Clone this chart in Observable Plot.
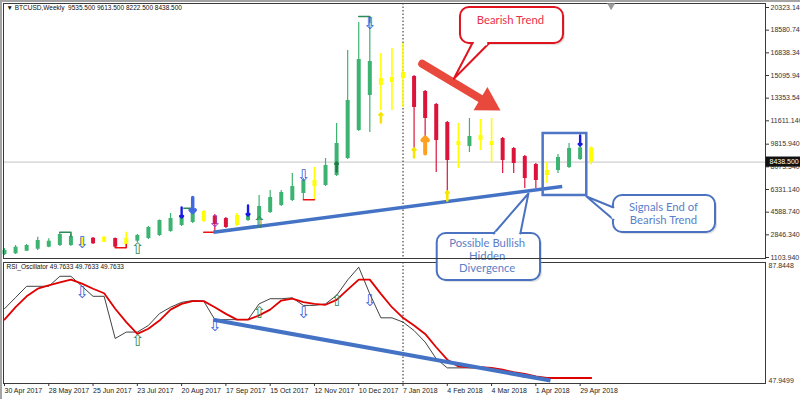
<!DOCTYPE html>
<html><head><meta charset="utf-8">
<script src="https://cdn.jsdelivr.net/npm/d3@7"></script>
<script src="https://cdn.jsdelivr.net/npm/@observablehq/plot@0.6"></script>
<style>
html,body{margin:0;padding:0;background:#fff;}
#wrap{position:relative;width:800px;height:399px;overflow:hidden;background:#fff;}
#wrap svg{position:absolute;left:0;top:0;}
#wrap .bt{position:absolute;left:0;top:0;width:800px;height:2px;background:#a4a4a4;}
#wrap .bl{position:absolute;left:0;top:0;width:2px;height:399px;background:#a4a4a4;}
</style></head><body><div id="wrap"><div class="bt"></div><div class="bl"></div></div>
<script>
// ---------- data ----------
const title = "▼ BTCUSD,Weekly  9535.500 9613.500 8222.500 8438.500";
const rsiTitle = "RSI_Oscillator 49.7633 49.7633 49.7633";
const dateLabels = ["30 Apr 2017","28 May 2017","25 Jun 2017","23 Jul 2017","20 Aug 2017","17 Sep 2017","15 Oct 2017","12 Nov 2017","10 Dec 2017","7 Jan 2018","4 Feb 2018","4 Mar 2018","1 Apr 2018","29 Apr 2018"];
const dateLabelBar = [0,4,8,12,16,20,24,28,32,36,40,44,48,52];
const priceTicks = [1103.94,2846.34,4588.74,6331.14,8073.54,9815.94,11611.14,13353.54,15095.94,16838.34,18580.74,20323.14];
const rsiMax = 87.8448, rsiMin = 47.9499;
const lastPrice = 8438.5;
// trend state per weekly bar: g = bullish, y = neutral, r = bearish
const trend = ["g","g","g","g","g","g","g","y","r","y","r","y","g","g","g","g","g","g","y","r","r","y","g","g","g","g","g","g","y","g","g","g","g","g","y","y","y","r","r","r","r","y","g","y","y","r","r","r","r","y","g","g","g","y"];
const open  = [1335,1388,1588,1742,1896,2027,2027,2565,2588,2280,2565,2103,2357,2565,2795,3103,3564,3795,4640,4256,4102,3564,3949,3949,4564,5102,5486,6024,6562,6639,7408,8715,10868,16172,14327,14558,15327,15019,13866,12867,11483,9715,9638,10099,9715,10253,9484,8869,8254,7408,7793,8023,8638,9535.5];
const high  = [1796,2027,2103,2665,2542,3026,2872,2642,2650,2700,2600,3049,2872,3487,3987,4487,4487,4871,4717,4410,4179,4487,4410,5871,6255,6255,7562,7178,8023,8715,11406,17018,19171,19555,16788,17172,17556,15096,13943,12944,11560,11406,11790,11713,11790,10330,9561,8946,8331,8407,9023,9868,10253,9613.5];
const low   = [1258,1335,1565,1642,1850,1950,1950,1873,2100,2250,1850,1850,2257,2488,2718,3049,3487,3718,3795,3049,3333,3487,3872,3564,4487,5025,5409,5540,5540,6562,7331,8638,10791,10714,12405,12405,12636,9100,9561,7639,6024,7946,9176,9330,8407,7562,7562,6409,6409,6793,7562,7946,8561,8222.5];
const close = [1642,1896,2027,2411,2357,2872,2718,2027,2157,2665,1896,2565,2795,3410,3949,4102,4333,4587,3872,3641,3410,4333,4333,5025,5717,6101,6562,7024,7024,8177,9868,13174,16326,13559,14866,14942,14866,12636,11790,10099,8561,10022,10406,10483,10022,8561,8331,7178,7024,7793,8792,9484,9535.5,8438.5];
const rsi    = [72.6,76.3,80.0,80.0,80.0,83.3,83.3,80.0,76.7,76.7,62.8,64.9,64.9,67.1,71.0,73.1,74.7,75.3,75.1,69.0,69.0,69.0,69.0,74.2,75.9,75.9,76.2,73.7,73.7,74.2,77.0,82.1,86.3,77.5,69.6,69.6,68.2,65.4,61.6,56.1,53.1,53.1,53.1,53.1,52.8,51.7,50.9,50.0,49.8,49.76,49.76,49.76,49.76,49.76];
const rsiSig = [69.0,73.1,76.7,79.2,80.3,81.3,82.2,80.9,79.2,77.7,72.6,68.2,64.3,66.0,68.7,72.3,74.2,75.1,75.1,73.1,70.9,69.0,69.0,70.4,72.3,75.3,75.9,74.8,74.2,73.9,75.5,78.9,82.2,82.2,77.5,73.1,69.6,67.1,64.3,59.9,55.8,53.6,53.3,53.3,53.1,52.5,51.7,51.1,50.3,49.76,49.76,49.76,49.76,49.76];
// signal arrows (bar index, price / rsi level)
const sellHollowBar = [7,27,33], sellHollowAt = [2219,7408,19094];
const sellPurpleBar = [19], sellPurpleAt = [3833];
const buyHollowBar = [12,23], buyHollowAt = [1757,3756];
const sellBar = [16,22,52], sellTip = [4179,4333,9715];
const sellBigBar = [17], sellBigTip = [4564];
const buyGreenBar = [30], buyGreenTip = [8407];
const buyYellowBar = [34,37,40], buyYellowTip = [12175,9484,6178];
const buyOrangeBar = [38], buyOrangeTip = [10330];
const rsiSellBar = [7,19,27,33], rsiSellAt = [77.8,67.1,71.4,75.3];
const rsiBuyBar = [12,23,30], rsiBuyAt = [62.1,71.4,75.3];
// fractal brackets
const greenBrackets = [[[5,3026],[5,3049],[6,3049],[6,2718]],[[16.2,4894],[17,4894]],[[32,19632],[33,19632],[33,19171]]];
const redBrackets = [[[10,1896],[10,1850],[11,1850],[11,2103]],[[18,3049],[19,3049]],[[27,5540],[28,5540]]];
// annotations
const priceTrend = [[18.88,3049],[50.38,6562]];
const rsiTrend = [[18.88,68.95],[49.32,48.94]];
const signalBox = {x1:48.66,x2:52.6,y1:5871,y2:10637};
const vline = 36;

// ---------- build ----------
const candles = open.map((o,i)=>({i,o,h:high[i],l:low[i],c:close[i],t:trend[i]}));
const col = {g:"#3cb371", y:"#ffff00", r:"#dc143c"};
const pts = (bars, vals) => bars.map((b,k)=>({i:b, v:vals[k]}));
const brk = (arr) => arr.flatMap((seg,k)=>seg.map(([i,v])=>({k,i,v})));
const xDomain = [-0.0903, 68.745];
const FONT = "'Liberation Sans', Arial, sans-serif";
const CFONT = "Lato, 'Open Sans', sans-serif";
const seg = {x1:d=>d[0][0],y1:d=>d[0][1],x2:d=>d[1][0],y2:d=>d[1][1]};

function candleMarks(t){
  const d = candles.filter(c=>c.t===t);
  return [
    Plot.ruleX(d,{x:"i",y1:"l",y2:"h",stroke:col[t],strokeWidth:t==="y"?1.6:1.2}),
    Plot.ruleX(d,{x:"i",y1:"o",y2:"c",stroke:col[t],strokeWidth:4})
  ];
}
function callout({x1,x2,y1,y2,tail,gap,color,lines,textX,textY,textColor}){
  const box = [{x1,x2,y1,y2}];
  const tailPts = tail.map(([i,v])=>({i,v}));
  return [
    Plot.rect(box,{x1:"x1",x2:"x2",y1:"y1",y2:"y2",rx:9,fill:"#9a9a9a",fillOpacity:0.3,dx:2,dy:2}),
    Plot.rect(box,{x1:"x1",x2:"x2",y1:"y1",y2:"y2",rx:9,fill:"white",stroke:color,strokeWidth:2}),
    Plot.line(tailPts,{x:"i",y:"v",fill:"white",stroke:color,strokeWidth:2}),
    Plot.link([gap],{...seg,stroke:"white",strokeWidth:3.5}),
    Plot.text(lines,{x:()=>textX,y:(d,k)=>textY[k],text:d=>d,fill:textColor,fontSize:11.3,fontFamily:CFONT})
  ];
}
const hollow = (data, glyph, color) => Plot.text(data,{x:"i",y:"v",text:()=>glyph,fill:color,stroke:"none",fontSize:16,fontFamily:"DejaVu Sans"});

const main = Plot.plot({
  width:800, height:399,
  marginLeft:3, marginRight:35, marginTop:3, marginBottom:141,
  x:{domain:xDomain, axis:null},
  y:{domain:[1027.1,20630.6]},
  style:{background:"transparent",overflow:"visible",fontFamily:FONT,fontSize:"7px",color:"#222"},
  marks:[
    Plot.ruleY([lastPrice],{stroke:"#c4c4c4"}),
    Plot.ruleX([vline],{stroke:"#222",strokeDasharray:"1.5,2"}),
    ...candleMarks("g"), ...candleMarks("r"), ...candleMarks("y"),
    Plot.line(brk(greenBrackets),{x:"i",y:"v",z:"k",stroke:"#2e8b57",strokeWidth:1.6}),
    Plot.line(brk(redBrackets),{x:"i",y:"v",z:"k",stroke:"#ee1111",strokeWidth:1.6}),
    Plot.link([priceTrend],{...seg,stroke:"#4472c4",strokeWidth:3.5}),
    Plot.rect([signalBox],{x1:"x1",x2:"x2",y1:"y1",y2:"y2",fill:"none",stroke:"#4f76c4",strokeWidth:2.5}),
    // arrows
    hollow(pts(sellHollowBar,sellHollowAt),"⇩","#3a5ee0"),
    hollow(pts(sellPurpleBar,sellPurpleAt),"⇩","#9a33cc"),
    hollow(pts(buyHollowBar,buyHollowAt),"⇧","#2e8b57"),
    Plot.vector(pts(sellBar,sellTip),{x:"i",y:"v",length:10,rotate:180,anchor:"end",stroke:"#1a1ae6",strokeWidth:2.4,r:2.5}),
    Plot.vector(pts(sellBigBar,sellBigTip),{x:"i",y:"v",length:15,rotate:180,anchor:"end",stroke:"#4169e1",strokeWidth:3.5,r:3}),
    Plot.vector(pts(buyGreenBar,buyGreenTip),{x:"i",y:"v",length:9,rotate:0,anchor:"end",stroke:"#1f7a45",strokeWidth:2.4,r:2.5}),
    Plot.vector(pts(buyYellowBar,buyYellowTip),{x:"i",y:"v",length:9,rotate:0,anchor:"end",stroke:"#f5e500",strokeWidth:2.6,r:2.7}),
    Plot.vector(pts(buyOrangeBar,buyOrangeTip),{x:"i",y:"v",length:16,rotate:0,anchor:"end",stroke:"#ffa020",strokeWidth:4,r:3}),
    // red arrow
    Plot.link([[[37.73,15996],[43.6,13013]]],{...seg,stroke:"#e8493c",strokeWidth:8,strokeLinecap:"round"}),
    Plot.dot([[43.6,13013]],{x:d=>d[0],y:d=>d[1],symbol:"triangle",rotate:121,r:10,fill:"#e8493c",stroke:"none"}),
    // callouts
    ...callout({x1:41.19,x2:50.5,y1:17556,y2:20324,tail:[[42.25,17556],[40.59,14843],[43.75,17556]],gap:[[42.4,17556],[43.6,17556]],color:"#e0141e",lines:["Bearish Trend"],textX:45.7,textY:[19325],textColor:"#e8304a"}),
    ...callout({x1:39.09,x2:48.42,y1:-664,y2:2949,tail:[[44.2,2949],[47.33,6024],[46.6,2949]],gap:[[44.35,2949],[46.45,2949]],color:"#4a72c0",lines:["Possible Bullish","Hidden","Divergence"],textX:43.6,textY:[2180,1181,258],textColor:"#5b80c8"}),
    ...callout({x1:55.01,x2:64.23,y1:3026,y2:5871,tail:[[55.01,4948],[52.57,5794],[55.01,4025]],gap:[[55.01,4880],[55.01,4090]],color:"#4a72c0",lines:["Signals End of","Bearish Trend"],textX:59.53,textY:[4948,3949],textColor:"#5b80c8"}),
    Plot.frame({stroke:"#3a3a3a"}),
    Plot.dot([0],{x:()=>54.8,frameAnchor:"top",symbol:"triangle",rotate:180,r:3,fill:"#9a9a9a",dy:2}),
    Plot.text([title],{frameAnchor:"top-left",dx:3,dy:2,lineAnchor:"top",textAnchor:"start",fontSize:6.5,fill:"#111"}),
    Plot.axisY(priceTicks,{anchor:"right",tickSize:3,tickPadding:2,tickFormat:d=>d.toFixed(3),fontSize:7,color:"#333"}),
    Plot.rect([lastPrice],{x1:()=>68.8,x2:()=>72.3,y1:d=>d-390,y2:d=>d+390,fill:"#111"}),
    Plot.text([lastPrice],{y:d=>d,frameAnchor:"right",dx:4,textAnchor:"start",text:d=>d.toFixed(3),fill:"white",fontSize:7})
  ]
});

const rsiData = rsi.map((v,i)=>({i,v,s:rsiSig[i]}));
const osc = Plot.plot({
  width:800, height:399,
  marginLeft:3, marginRight:35, marginTop:262, marginBottom:16,
  x:{domain:xDomain, axis:null},
  y:{type:"linear", domain:[rsiMin,rsiMax], axis:null},
  style:{background:"transparent",overflow:"visible",fontFamily:FONT,fontSize:"7px",color:"#222"},
  marks:[
    Plot.ruleX([vline],{stroke:"#222",strokeDasharray:"1.5,2"}),
    Plot.line(rsiData,{x:"i",y:"v",stroke:"#111",strokeWidth:0.8}),
    Plot.line(rsiData,{x:"i",y:"s",stroke:"#e00000",strokeWidth:1.8}),
    Plot.link([rsiTrend],{...seg,stroke:"#4472c4",strokeWidth:4}),
    hollow(pts(rsiSellBar,rsiSellAt),"⇩","#3a5ee0"),
    hollow(pts(rsiBuyBar,rsiBuyAt),"⇧","#2e8b57"),
    Plot.frame({stroke:"#3a3a3a"}),
    Plot.text([rsiTitle],{frameAnchor:"top-left",dx:3,dy:2,lineAnchor:"top",textAnchor:"start",fontSize:6.5,fill:"#111"}),
    Plot.text([rsiMax],{y:d=>d,frameAnchor:"right",dx:3,dy:1,textAnchor:"start",lineAnchor:"top",text:d=>d.toFixed(4),fontSize:7,fill:"#333"}),
    Plot.text([rsiMin],{y:d=>d,frameAnchor:"right",dx:3,dy:-1,textAnchor:"start",lineAnchor:"bottom",text:d=>d.toFixed(4),fontSize:7,fill:"#333"}),
    Plot.ruleX(dateLabelBar,{x:d=>d,frameAnchor:"bottom",y1:()=>rsiMin,y2:()=>rsiMin,insetBottom:-3,stroke:"#333"}),
    Plot.text(dateLabelBar,{x:d=>d,frameAnchor:"bottom",dy:7,textAnchor:"start",lineAnchor:"middle",text:(d,k)=>dateLabels[k],fontSize:7,fill:"#222"})
  ]
});
const wrap = document.getElementById("wrap");
wrap.appendChild(osc);
wrap.appendChild(main);
</script></body></html>
